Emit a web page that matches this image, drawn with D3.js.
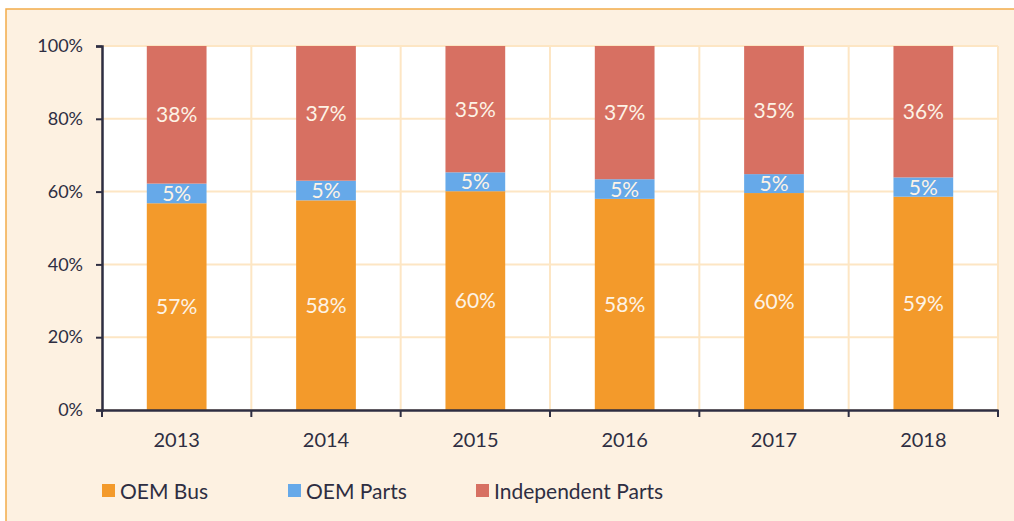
<!DOCTYPE html>
<html>
<head>
<meta charset="utf-8">
<script src="https://cdn.jsdelivr.net/npm/d3@7"></script>
<style>
  body { margin: 0; background: #fff; }
  text { font-family: Lato, "Noto Sans", sans-serif; }
  .yaxis .tick text { fill: #2e2e42; font-size: 18px; }
  .xaxis .tick text { fill: #2e2e42; font-size: 20px; }
  .seg-label { fill: #fdf3e6; font-size: 21px; text-anchor: middle; }
  .legend text { fill: #2e2e42; font-size: 21px; }
</style>
</head>
<body>
<div id="chart"></div>
<script>

var years = ["2013", "2014", "2015", "2016", "2017", "2018"];
var oemBus = [56.8, 57.6, 60.1, 58.0, 59.6, 58.6];
var oemParts = [5.4, 5.4, 5.2, 5.4, 5.2, 5.3];
var independentParts = [37.8, 37.0, 34.7, 36.6, 35.2, 36.1];
var seriesNames = ["OEM Bus", "OEM Parts", "Independent Parts"];
var yTicks = [0, 20, 40, 60, 80, 100];

var colors = ["#f39a2b", "#66a9e9", "#d77062"];

var W = 1014, H = 521;
var margin = {top: 46, right: 16, bottom: 111, left: 102};
var width = W - margin.left - margin.right;
var height = H - margin.top - margin.bottom;

var svgRoot = d3.select('#chart')
  .append('svg')
    .attr('width', W)
    .attr('height', H);

// cream panel with orange frame
svgRoot.append('rect')
  .attr('x', 6).attr('y', 9)
  .attr('width', W + 10).attr('height', H + 10)
  .attr('fill', '#fdf1e1')
  .attr('stroke', '#f2ac4a')
  .attr('stroke-width', 1.5);

var svg = svgRoot.append('g')
  .attr('transform', 'translate(' + margin.left + ',' + margin.top + ')');

var x = d3.scaleBand()
  .domain(years)
  .range([0, width])
  .padding(0);

var y = d3.scaleLinear()
  .domain([0, 100])
  .range([height, 0]);

// plot area
svg.append('rect')
  .attr('width', width)
  .attr('height', height)
  .attr('fill', '#fff');

// grid
svg.selectAll('.hgrid')
  .data(yTicks)
  .enter().append('line')
  .attr('x1', 0).attr('x2', width)
  .attr('y1', function(d) { return y(d); })
  .attr('y2', function(d) { return y(d); })
  .attr('stroke', '#fde6c4')
  .attr('stroke-width', 2);

var bounds = years.map(function(d) { return x(d); }).concat([width]);
svg.selectAll('.vgrid')
  .data(bounds)
  .enter().append('line')
  .attr('y1', 0).attr('y2', height)
  .attr('x1', function(d) { return d; })
  .attr('x2', function(d) { return d; })
  .attr('stroke', '#fde6c4')
  .attr('stroke-width', 2);

// stack data
var table = years.map(function(yr, i) {
  return {year: yr, "OEM Bus": oemBus[i], "OEM Parts": oemParts[i], "Independent Parts": independentParts[i]};
});
var stacked = d3.stack().keys(seriesNames)(table);

var barW = x.bandwidth() * 0.4;

var layers = svg.selectAll('.layer')
  .data(stacked)
  .enter().append('g')
  .attr('class', 'layer')
  .attr('fill', function(d, i) { return colors[i]; });

layers.selectAll('rect')
  .data(function(d) { return d; })
  .enter().append('rect')
  .attr('x', function(d) { return x(d.data.year) + (x.bandwidth() - barW) / 2; })
  .attr('y', function(d) { return y(d[1]); })
  .attr('width', barW)
  .attr('height', function(d) { return y(d[0]) - y(d[1]); });

layers.selectAll('text')
  .data(function(d) { return d; })
  .enter().append('text')
  .attr('class', 'seg-label')
  .attr('x', function(d) { return x(d.data.year) + x.bandwidth() / 2; })
  .attr('y', function(d) { return (y(d[0]) + y(d[1])) / 2; })
  .attr('dy', '0.36em')
  .text(function(d) { return Math.round(d[1] - d[0]) + '%'; });

// axes
var yAxis = svg.append('g')
  .attr('class', 'yaxis')
  .call(d3.axisLeft(y).tickValues(yTicks).tickSize(6).tickPadding(13)
    .tickFormat(function(d) { return d + '%'; }));

var xAxis = svg.append('g')
  .attr('class', 'xaxis')
  .attr('transform', 'translate(0,' + height + ')')
  .call(d3.axisBottom(x).tickSize(0).tickPadding(23));

// x ticks at category boundaries
xAxis.selectAll('.bound')
  .data(bounds)
  .enter().append('line')
  .attr('x1', function(d) { return d; })
  .attr('x2', function(d) { return d; })
  .attr('y1', 0).attr('y2', 7)
  .attr('stroke', '#2e2e42')
  .attr('stroke-width', 2);

svg.selectAll('.domain')
  .attr('stroke', '#2e2e42')
  .attr('stroke-width', 2.5);
yAxis.selectAll('.tick line')
  .attr('stroke', '#2e2e42')
  .attr('stroke-width', 2);

// legend
var legendX = [0, 186, 374];
var legend = svg.append('g')
  .attr('class', 'legend')
  .attr('transform', 'translate(0,' + (height + 74) + ')');

var item = legend.selectAll('g')
  .data(seriesNames)
  .enter().append('g')
  .attr('transform', function(d, i) { return 'translate(' + legendX[i] + ',0)'; });

item.append('rect')
  .attr('width', 13).attr('height', 13)
  .attr('fill', function(d, i) { return colors[i]; });

item.append('text')
  .attr('x', 18)
  .attr('y', 7)
  .attr('dy', '0.36em')
  .text(function(d) { return d; });

</script>
</body>
</html>
